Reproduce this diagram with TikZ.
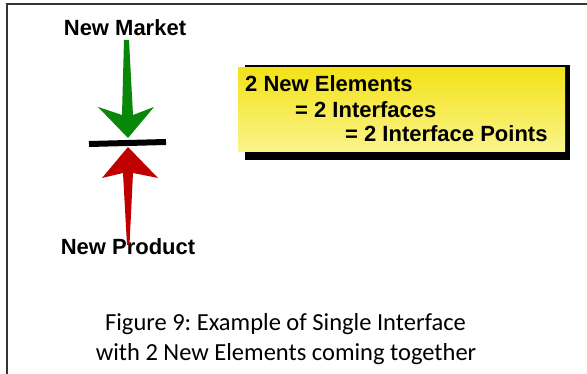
\documentclass[tikz,border=0pt]{standalone}
\usepackage{fontspec}
\setmainfont{Liberation Sans}
\newfontfamily\capfont{Carlito}
\usepackage{tikz}
\usetikzlibrary{positioning}
\frenchspacing

\definecolor{mktgreen}{RGB}{8,135,8}
\definecolor{prodred}{RGB}{192,0,0}
\definecolor{boxtop}{RGB}{243,226,24}
\definecolor{boxbot}{RGB}{251,244,140}

\begin{document}
\begin{tikzpicture}[x=1pt, y=-1pt,
    lbl/.style={font=\fontsize{22}{26}\selectfont\bfseries, inner sep=0pt, anchor=base},
    boxline/.style={lbl, anchor=base west},
    caption/.style={font=\capfont\fontsize{24.5}{30}\selectfont, inner sep=0pt, anchor=base},
    ybox/.style={top color=boxtop, bottom color=boxbot, minimum width=327pt, minimum height=84pt, inner sep=0pt}]
    \useasboundingbox (0,0) rectangle (587,374);
    % Frame
    \draw[line width=2pt, black!80] (5.5,4) -- (587,4);
    \draw[line width=2pt, black!80] (6.5,3) -- (6.5,374);
    % Labels
    \node[lbl] (mkt) at (125,36) {New Market};
    \node[lbl] (prod) at (128,255) {New Product};
    % Interface bar
    \draw[line width=6pt] (89,144) -- (166,142);
    % Arrows
    \fill[mktgreen] (124,40) -- (129,40) -- (133,115) -- (154,107) -- (128,138)
      -- (98,107) -- (122,115) -- cycle;
    \fill[prodred] (127,245) -- (129.5,245) -- (133,173) -- (158,178) -- (128,147)
      -- (102,178) -- (123,173) -- cycle;
    % Box with shadow
    \fill[black] (245,65) rectangle (570,160);
    \node[ybox] (elems) at (401.5,110) {};
    \node[boxline] (line1) at (245,92) {2 New Elements};
    \node[boxline] (line2) at (295,118) {= 2 Interfaces};
    \node[boxline] (line3) at (345,142) {= 2 Interface Points};
    % Caption
    \node[caption] (cap1) at (285.5,331) {Figure 9: Example of Single Interface};
    \node[caption] (cap2) at (286,361) {with 2 New Elements coming together};
\end{tikzpicture}
\end{document}
